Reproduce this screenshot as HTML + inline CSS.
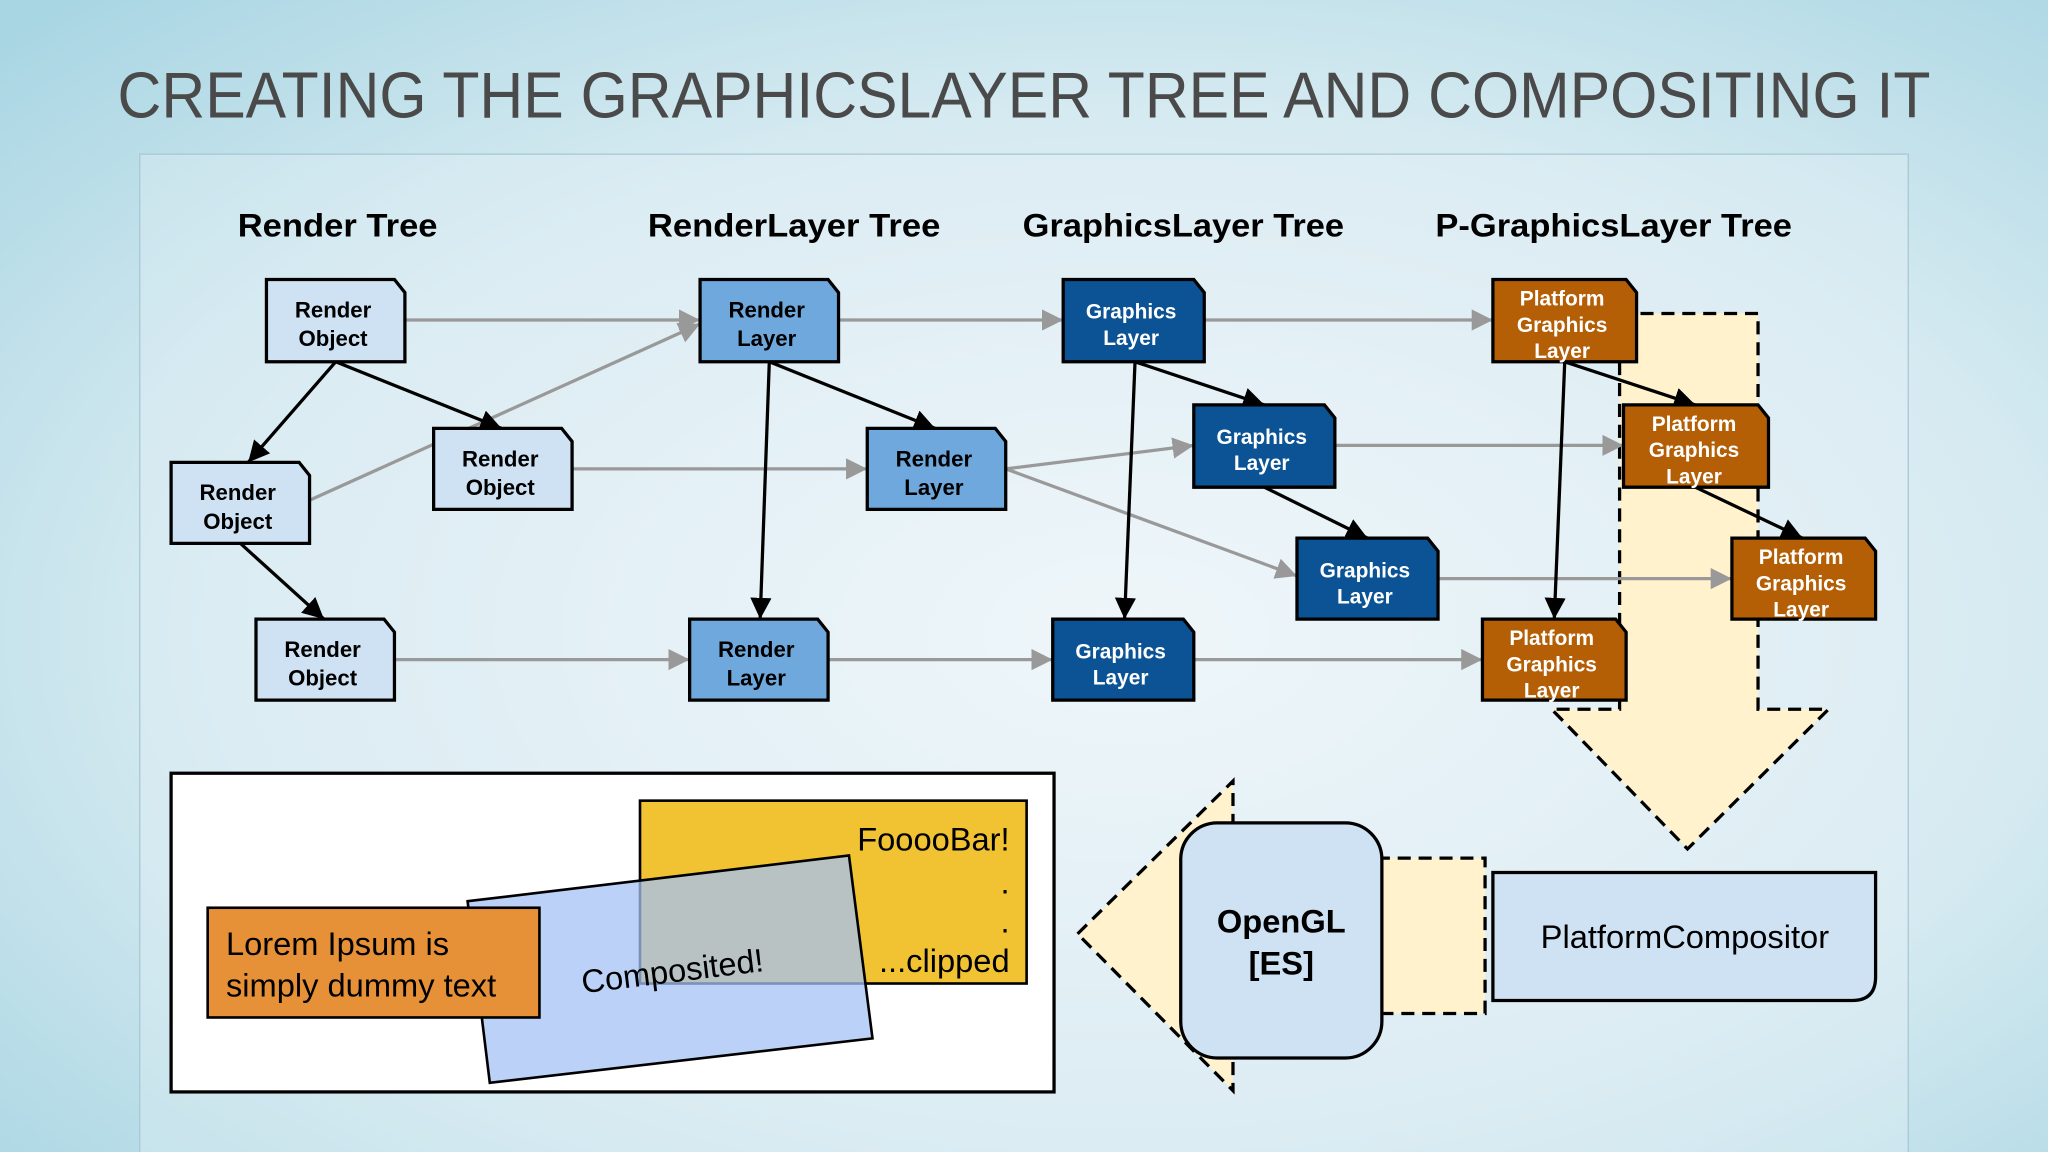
<!DOCTYPE html>
<html><head><meta charset="utf-8"><style>
html,body{margin:0;padding:0;width:2048px;height:1152px;overflow:hidden}
svg{display:block}
text{font-family:"Liberation Sans",Arial,sans-serif}
</style></head><body>
<svg width="2048" height="1152" viewBox="0 0 1568 882" xmlns="http://www.w3.org/2000/svg">
<defs>
<radialGradient id="bg" cx="0.55" cy="0.55" r="0.75">
<stop offset="0" stop-color="#f4f9fc"/><stop offset="0.6" stop-color="#d6eaf1"/><stop offset="1" stop-color="#a9d6e3"/>
</radialGradient>
<marker id="ga" viewBox="0 0 10 10" refX="10" refY="5" markerWidth="6.5" markerHeight="6.5" orient="auto"><path d="M0,0L10,5L0,10z" fill="#999"/></marker>
<marker id="ba" viewBox="0 0 10 10" refX="10" refY="5" markerWidth="6.5" markerHeight="6.5" orient="auto"><path d="M0,0L10,5L0,10z" fill="#000"/></marker>
</defs>
<rect width="1568" height="882" fill="url(#bg)"/>
<rect x="107" y="118" width="1354" height="780" fill="#e4f1f6" fill-opacity="0.35" stroke="#a8c8d4" stroke-width="1"/>
<text x="90" y="90" font-size="50" fill="#4a4a4a" textLength="1388" lengthAdjust="spacingAndGlyphs" style="font-weight:normal">CREATING THE GRAPHICSLAYER TREE AND COMPOSITING IT</text>

<g font-size="25" font-weight="bold" fill="#000">
<text x="182" y="181" textLength="153" lengthAdjust="spacingAndGlyphs">Render Tree</text>
<text x="496" y="181" textLength="224" lengthAdjust="spacingAndGlyphs">RenderLayer Tree</text>
<text x="783" y="181" textLength="246" lengthAdjust="spacingAndGlyphs">GraphicsLayer Tree</text>
<text x="1099" y="181" textLength="273" lengthAdjust="spacingAndGlyphs">P-GraphicsLayer Tree</text>
</g>

<polygon points="1240,240 1346,240 1346,543 1400,543 1292,650 1188,543 1240,543" fill="#fff2cc" stroke="#000" stroke-width="2.5" stroke-dasharray="10,6"/>
<polygon points="825,715 944,598 944,657 1137,657 1137,776 944,776 944,835" fill="#fff2cc" stroke="#000" stroke-width="2.5" stroke-dasharray="10,6"/>

<g stroke="#999" stroke-width="2.5" fill="none" marker-end="url(#ga)">
<line x1="310" y1="245" x2="536" y2="245"/>
<line x1="237" y1="383" x2="536" y2="248"/>
<line x1="438" y1="359" x2="664" y2="359"/>
<line x1="302" y1="505" x2="528" y2="505"/>
<line x1="642" y1="245" x2="814" y2="245"/>
<line x1="770" y1="359" x2="914" y2="341"/>
<line x1="770" y1="359" x2="993" y2="441"/>
<line x1="634" y1="505" x2="806" y2="505"/>
<line x1="922" y1="245" x2="1143" y2="245"/>
<line x1="1022" y1="341" x2="1243" y2="341"/>
<line x1="1101" y1="443" x2="1326" y2="443"/>
<line x1="914" y1="505" x2="1135" y2="505"/>
</g>
<g stroke="#000" stroke-width="2.5" fill="none" marker-end="url(#ba)">
<line x1="257" y1="277" x2="190" y2="354"/>
<line x1="257" y1="277" x2="384" y2="328"/>
<line x1="184" y1="416" x2="248" y2="474"/>
<line x1="589" y1="277" x2="582" y2="474"/>
<line x1="589" y1="277" x2="716" y2="328"/>
<line x1="869" y1="277" x2="861" y2="474"/>
<line x1="869" y1="277" x2="968" y2="310"/>
<line x1="968" y1="373" x2="1047" y2="412"/>
<line x1="1198" y1="277" x2="1190" y2="474"/>
<line x1="1198" y1="277" x2="1298" y2="310"/>
<line x1="1298" y1="373" x2="1380" y2="412"/>
</g>

<g stroke="#000" stroke-width="2.5">
<g fill="#cfe2f3">
<path d="M204,214H302L310,224V277H204Z"/><path d="M332,328H430L438,338V390H332Z"/>
<path d="M131,354H229L237,364V416H131Z"/><path d="M196,474H294L302,484V536H196Z"/>
</g>
<g fill="#6fa8dc">
<path d="M536,214H634L642,224V277H536Z"/><path d="M664,328H762L770,338V390H664Z"/><path d="M528,474H626L634,484V536H528Z"/>
</g>
<g fill="#0b5394">
<path d="M814,214H914L922,224V277H814Z"/><path d="M914,310H1014L1022,320V373H914Z"/>
<path d="M993,412H1093L1101,422V474H993Z"/><path d="M806,474H906L914,484V536H806Z"/>
</g>
<g fill="#b45f06">
<path d="M1143,214H1245L1253,224V277H1143Z"/><path d="M1243,310H1346L1354,320V373H1243Z"/>
<path d="M1326,412H1428L1436,422V474H1326Z"/><path d="M1135,474H1237L1245,484V536H1135Z"/>
</g>
</g>
<g font-size="17" font-weight="bold" text-anchor="middle" fill="#000">
<text x="255" y="243">Render</text><text x="255" y="265">Object</text>
<text x="383" y="357">Render</text><text x="383" y="379">Object</text>
<text x="182" y="383">Render</text><text x="182" y="405">Object</text>
<text x="247" y="503">Render</text><text x="247" y="525">Object</text>
<text x="587" y="243">Render</text><text x="587" y="265">Layer</text>
<text x="715" y="357">Render</text><text x="715" y="379">Layer</text>
<text x="579" y="503">Render</text><text x="579" y="525">Layer</text>
</g>
<g font-size="16" font-weight="bold" text-anchor="middle" fill="#fff">
<text x="866" y="244">Graphics</text><text x="866" y="264">Layer</text>
<text x="966" y="340">Graphics</text><text x="966" y="360">Layer</text>
<text x="1045" y="442">Graphics</text><text x="1045" y="462">Layer</text>
<text x="858" y="504">Graphics</text><text x="858" y="524">Layer</text>
<text x="1196" y="234">Platform</text><text x="1196" y="254">Graphics</text><text x="1196" y="274">Layer</text>
<text x="1297" y="330">Platform</text><text x="1297" y="350">Graphics</text><text x="1297" y="370">Layer</text>
<text x="1379" y="432">Platform</text><text x="1379" y="452">Graphics</text><text x="1379" y="472">Layer</text>
<text x="1188" y="494">Platform</text><text x="1188" y="514">Graphics</text><text x="1188" y="534">Layer</text>
</g>

<rect x="904" y="630" width="154" height="180" rx="28" fill="#cfe2f3" stroke="#000" stroke-width="2.5"/>
<text x="981" y="714" font-size="25" font-weight="bold" text-anchor="middle">OpenGL</text>
<text x="981" y="746" font-size="25" font-weight="bold" text-anchor="middle">[ES]</text>
<path d="M1143,668H1436V748Q1436,766 1418,766H1143Z" fill="#cfe2f3" stroke="#000" stroke-width="2.5"/>
<text x="1290" y="726" font-size="25" text-anchor="middle">PlatformCompositor</text>

<rect x="131" y="592" width="676" height="244" fill="#fff" stroke="#000" stroke-width="2.5"/>
<rect x="490" y="613" width="296" height="140" fill="#f1c232" stroke="#000" stroke-width="2"/>
<g font-size="25" fill="#000" text-anchor="end">
<text x="773" y="651">FooooBar!</text>
<text x="773" y="684">.</text>
<text x="773" y="714">.</text>
<text x="773" y="744">...clipped</text>
</g>
<polygon points="358,690 650,655 668,795 375,829" fill="#a4c2f4" fill-opacity="0.75" stroke="#000" stroke-width="2"/>
<text x="515" y="752" font-size="25" text-anchor="middle" transform="rotate(-7 515 745)">Composited!</text>
<rect x="159" y="695" width="254" height="84" fill="#e69138" stroke="#000" stroke-width="2"/>
<text x="173" y="731" font-size="25">Lorem Ipsum is</text>
<text x="173" y="763" font-size="25">simply dummy text</text>
</svg>
</body></html>
